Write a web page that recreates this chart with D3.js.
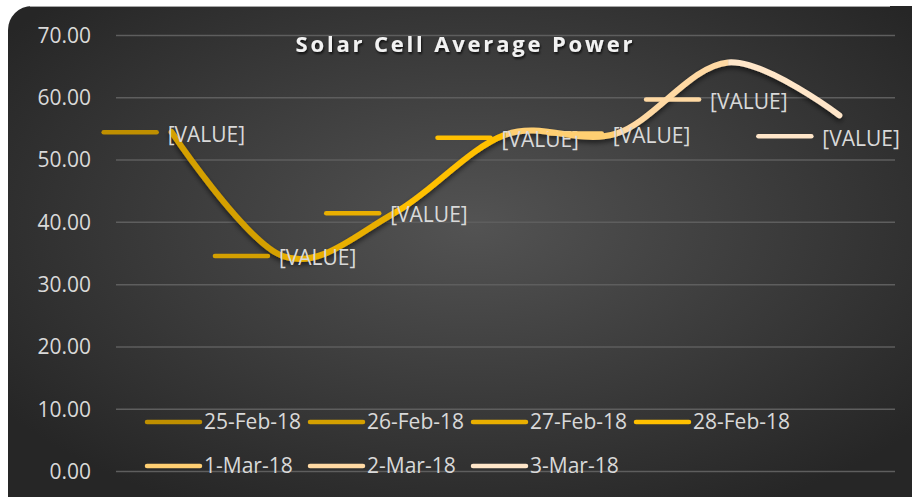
<!DOCTYPE html>
<html>
<head>
<meta charset="utf-8">
<script src="https://cdn.jsdelivr.net/npm/d3@7"></script>
<style>
  html, body { margin: 0; padding: 0; background: #ffffff; }
  svg { display: block; font-family: "Open Sans", "Noto Sans", sans-serif; }
</style>
</head>
<body>
<script>
var width = 912;
var height = 497;

// chart data
var dates = ['25-Feb-18', '26-Feb-18', '27-Feb-18', '28-Feb-18', '1-Mar-18', '2-Mar-18', '3-Mar-18'];
var power = [54.4, 34.5, 41.4, 54.0, 54.2, 65.6, 57.1];
var pointColors = ['#BF8F00', '#D4A000', '#E9AF00', '#FFC000', '#FFCF72', '#FFD9A3', '#FFE6C9'];
var yTicks = [0, 10, 20, 30, 40, 50, 60, 70];
var labelText = '[VALUE]';
var chartTitle = 'Solar Cell Average Power';

// labels that were dragged away from their point (px)
var labelNudge = [[0, 0], [0, 0], [0, 0], [0, 3], [0, 0], [-14, 37], [-13, 21]];

var plotLeft = 116, plotRight = 895, plotTop = 35, plotBottom = 471;

var svg = d3.select('body').append('svg')
    .attr('width', width)
    .attr('height', height);

var defs = svg.append('defs');

var bg = defs.append('radialGradient')
    .attr('id', 'bgGrad')
    .attr('cx', '50%').attr('cy', '42%')
    .attr('r', '62%');
bg.append('stop').attr('offset', '0%').attr('stop-color', '#535353');
bg.append('stop').attr('offset', '100%').attr('stop-color', '#262626');

var shadow = defs.append('filter')
    .attr('id', 'shadow')
    .attr('x', '-10%').attr('y', '-20%')
    .attr('width', '120%').attr('height', '140%');
shadow.append('feDropShadow')
    .attr('dx', 0).attr('dy', 3)
    .attr('stdDeviation', 2.5)
    .attr('flood-color', '#000')
    .attr('flood-opacity', 0.55);

var textShadow = defs.append('filter').attr('id', 'textShadow');
textShadow.append('feDropShadow')
    .attr('dx', 1).attr('dy', 2)
    .attr('stdDeviation', 1.2)
    .attr('flood-color', '#000')
    .attr('flood-opacity', 0.7);

// chart area background
svg.append('rect')
    .attr('x', 8).attr('y', 6)
    .attr('width', 930).attr('height', 520)
    .attr('rx', 24).attr('ry', 24)
    .style('fill', 'url(#bgGrad)');

svg.append('line')
    .attr('x1', 30).attr('x2', 890)
    .attr('y1', 6.5).attr('y2', 6.5)
    .style('stroke', '#a6a6a6')
    .style('stroke-width', 1);

var x = d3.scaleBand().domain(dates).range([plotLeft, plotRight]);
var y = d3.scaleLinear().domain([0, 70]).range([plotBottom, plotTop]);

function px(d) { return x(d) + x.bandwidth() / 2; }

// y axis + gridlines
var yAxis = svg.append('g')
    .attr('transform', 'translate(' + plotLeft + ',0)')
    .call(d3.axisLeft(y)
      .tickValues(yTicks)
      .tickFormat(d3.format('.2f'))
      .tickSize(-(plotRight - plotLeft))
      .tickPadding(25));

yAxis.select('.domain').remove();
yAxis.selectAll('.tick line')
    .style('stroke', '#5e5e5e')
    .style('stroke-width', 1.5);
yAxis.selectAll('.tick text')
    .style('fill', '#d9d9d9')
    .style('font-size', '21px')
    .style('font-family', '"Open Sans", sans-serif')
    .attr('dy', '0.35em');

// title
svg.append('text')
    .attr('x', 464)
    .attr('y', 52)
    .attr('text-anchor', 'middle')
    .attr('textLength', 337)
    .attr('lengthAdjust', 'spacing')
    .style('fill', '#f2f2f2')
    .style('font-size', '22px')
    .style('font-weight', 'bold')
    .style('filter', 'url(#textShadow)')
    .text(chartTitle);

// smoothed line, coloured per point
var pts = dates.map(function(d, i) { return [px(d), y(power[i])]; });

var line = d3.line().curve(d3.curveCatmullRom.alpha(0));
var pathD = line(pts);

var lineGroup = svg.append('g').style('filter', 'url(#shadow)');

for (var i = 1; i < pts.length; i++) {
  var x0 = (i == 1) ? pts[0][0] - 10 : pts[i - 1][0];
  var x1 = (i == pts.length - 1) ? pts[i][0] + 10 : pts[i][0];
  defs.append('clipPath')
      .attr('id', 'seg' + i)
    .append('rect')
      .attr('x', x0).attr('y', 0)
      .attr('width', x1 - x0).attr('height', height);

  lineGroup.append('path')
      .attr('d', pathD)
      .attr('clip-path', 'url(#seg' + i + ')')
      .style('fill', 'none')
      .style('stroke', pointColors[i])
      .style('stroke-width', 6)
      .style('stroke-linecap', 'round')
      .style('stroke-linejoin', 'round');
}

// data labels with legend keys
var labels = svg.append('g');
dates.forEach(function(d, i) {
  var lx = px(d) + labelNudge[i][0];
  var ly = y(power[i]) + labelNudge[i][1];
  labels.append('line')
      .attr('x1', lx - 68).attr('x2', lx - 15)
      .attr('y1', ly).attr('y2', ly)
      .style('stroke', pointColors[i])
      .style('stroke-width', 4.5)
      .style('stroke-linecap', 'round');
  labels.append('text')
      .attr('x', lx - 4)
      .attr('y', ly + 2)
      .attr('dy', '0.35em')
      .style('fill', '#d9d9d9')
      .style('font-size', '21px')
      .text(labelText);
});

// legend
var legend = svg.append('g');
dates.forEach(function(d, i) {
  var col = i % 4, row = Math.floor(i / 4);
  var lx = 147 + col * 163;
  var ly = 422 + row * 44;
  legend.append('line')
      .attr('x1', lx).attr('x2', lx + 53)
      .attr('y1', ly).attr('y2', ly)
      .style('stroke', pointColors[i])
      .style('stroke-width', 4.5)
      .style('stroke-linecap', 'round');
  legend.append('text')
      .attr('x', lx + 57)
      .attr('y', ly)
      .attr('dy', '0.35em')
      .style('fill', '#d9d9d9')
      .style('font-size', '21px')
      .text(d);
});
</script>
</body>
</html>
